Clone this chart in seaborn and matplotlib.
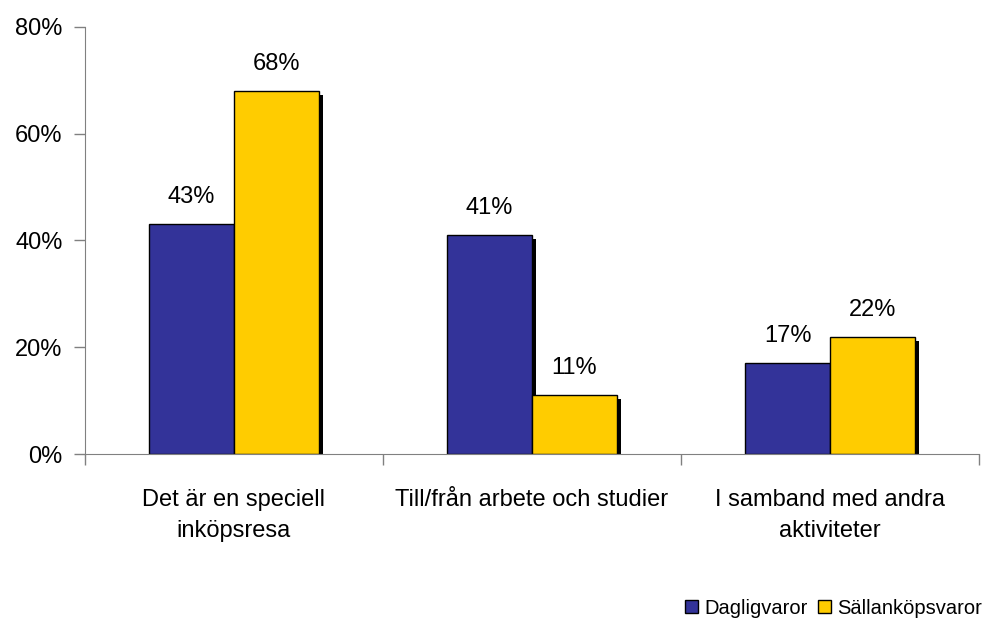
import numpy as np
import pandas as pd
import matplotlib
matplotlib.use('Agg')
import matplotlib.pyplot as plt
import matplotlib.transforms as mtransforms
from matplotlib.patches import Rectangle
import seaborn as sns

categories = ['Det är en speciell\ninköpsresa', 'Till/från arbete och studier', 'I samband med andra\naktiviteter']
series = ['Dagligvaror', 'Sällanköpsvaror']
dagligvaror = [43, 41, 17]
sallankopsvaror = [68, 11, 22]
yticks = [0, 20, 40, 60, 80]
colors = ['#333399', '#FFCC00']

df = pd.DataFrame({
    'kategori': categories * 2,
    'serie': [series[0]] * 3 + [series[1]] * 3,
    'andel': dagligvaror + sallankopsvaror,
})

plt.rcParams['font.family'] = ['Liberation Sans', 'DejaVu Sans']

fig = plt.figure(figsize=(9.88, 6.22), dpi=100)
ax = fig.add_axes([0.086, 0.270, 0.905, 0.687])

sns.barplot(data=df, x='kategori', y='andel', hue='serie', palette=colors,
            saturation=1, width=0.57, edgecolor='black', linewidth=1, ax=ax,
            legend=False, errorbar=None)

# drop shadows to the right / below each bar
shadow_tr = mtransforms.offset_copy(ax.transData, fig=fig, x=4, y=-4, units='dots')
for p in ax.patches[:]:
    sh = Rectangle(p.get_xy(), p.get_width(), p.get_height(), facecolor='black',
                   edgecolor='none', transform=shadow_tr, zorder=p.get_zorder() - 0.1)
    ax.add_patch(sh)

for cont in ax.containers:
    ax.bar_label(cont, fmt='%.0f%%', padding=11.5, fontsize=17)

ax.set_ylim(0, 80)
ax.set_xlim(-0.5, 2.5)
ax.set_yticks(yticks)
ax.set_yticklabels([f'{v}%' for v in yticks], fontsize=17)
ax.set_xticks([-0.5, 0.5, 1.5, 2.5])
ax.set_xticklabels([])
ax.set_xticks([0, 1, 2], minor=True)
ax.set_xticklabels(categories, minor=True, fontsize=17, linespacing=1.55)
ax.tick_params(axis='x', which='minor', length=0, pad=25)
ax.tick_params(axis='both', which='major', length=8, color='#808080', width=1)
ax.tick_params(axis='y', pad=8)
ax.set_xlabel('')
ax.set_ylabel('')
for s in ['top', 'right']:
    ax.spines[s].set_visible(False)
for s in ['left', 'bottom']:
    ax.spines[s].set_color('#808080')

handles = [Rectangle((0, 0), 1, 1, facecolor=c, edgecolor='black', linewidth=1) for c in colors]
fig.legend(handles, series, loc='center right', bbox_to_anchor=(1.004, 0.022),
           ncol=2, frameon=False, fontsize=14.5, handlelength=0.65, handleheight=0.65,
           handletextpad=0.3, columnspacing=0.5, borderpad=0)

fig.savefig('out.png', dpi=100)
